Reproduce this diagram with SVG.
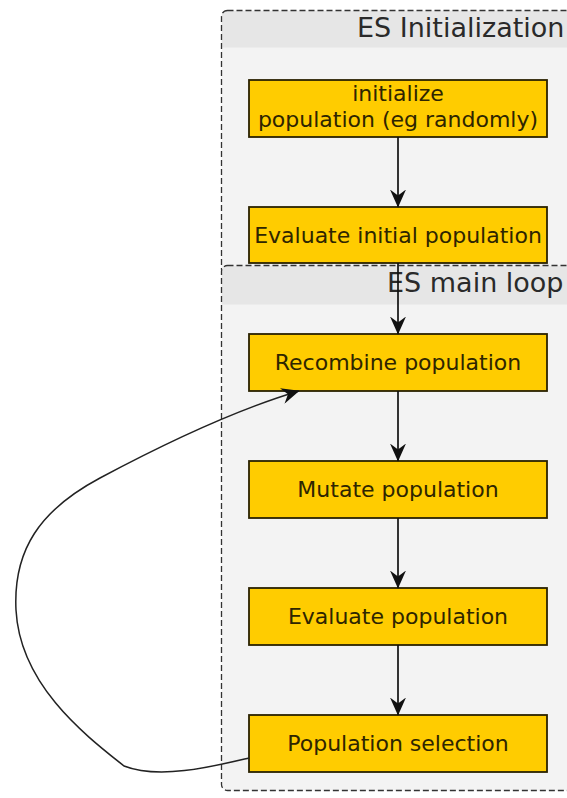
<svg xmlns="http://www.w3.org/2000/svg" width="567" height="798" viewBox="0 0 567 798">
  <style>
    .cont { fill: #f3f3f3; }
    .band { fill: #e6e6e6; }
    .border { fill: none; stroke: #333; stroke-width: 1.3; stroke-dasharray: 6 3; }
    .title { font-family: "DejaVu Sans", sans-serif; font-size: 27px; fill: #2a2a2a; }
    .box { fill: #ffcc00; stroke: #2a2200; stroke-width: 1.8; }
    .lbl { font-family: "DejaVu Sans", sans-serif; font-size: 22px; fill: #2e2500; text-anchor: middle; }
    .edge { fill: none; stroke: #111; stroke-width: 1.7; }
    .curve { fill: none; stroke: #222; stroke-width: 1.5; }
  </style>
  <defs>
    <marker id="arr" viewBox="0 0 18 16" refX="17.5" refY="8" markerWidth="18" markerHeight="16" markerUnits="userSpaceOnUse" orient="auto">
      <path d="M0,0 L18,8 L0,16 L6,8 Z" fill="#111"/>
    </marker>
    <clipPath id="clipInit"><rect x="221.5" y="10.5" width="360" height="265" rx="6"/></clipPath>
    <clipPath id="clipMain"><rect x="221.5" y="265.5" width="360" height="525" rx="6"/></clipPath>
  </defs>
  <rect width="567" height="798" fill="#ffffff"/>

  <g id="init-container">
    <rect class="cont" x="221.5" y="10.5" width="360" height="265" rx="6"/>
    <rect class="band" x="221.5" y="10.5" width="360" height="37" clip-path="url(#clipInit)"/>
    <rect class="border" x="221.5" y="10.5" width="360" height="265" rx="6"/>
    <text class="title" x="357" y="37">ES Initialization</text>
  </g>

  <g id="node-init">
    <rect class="box" x="249" y="80" width="298" height="57"/>
    <text class="lbl" x="398" y="101">initialize</text>
    <text class="lbl" x="398" y="127">population (eg randomly)</text>
  </g>
  <g id="node-eval-init">
    <rect class="box" x="249" y="207" width="298" height="56"/>
    <text class="lbl" x="398" y="243">Evaluate initial population</text>
  </g>

  <g id="main-container">
    <rect class="cont" x="221.5" y="265.5" width="360" height="525" rx="6"/>
    <rect class="band" x="221.5" y="265.5" width="360" height="39" clip-path="url(#clipMain)"/>
    <rect class="border" x="221.5" y="265.5" width="360" height="525" rx="6"/>
    <text class="title" x="387" y="292">ES main loop</text>
  </g>

  <g id="node-recombine">
    <rect class="box" x="249" y="334" width="298" height="57"/>
    <text class="lbl" x="398" y="370">Recombine population</text>
  </g>
  <g id="node-mutate">
    <rect class="box" x="249" y="461" width="298" height="57"/>
    <text class="lbl" x="398" y="497">Mutate population</text>
  </g>
  <g id="node-evaluate">
    <rect class="box" x="249" y="588" width="298" height="57"/>
    <text class="lbl" x="398" y="624">Evaluate population</text>
  </g>
  <g id="node-selection">
    <rect class="box" x="249" y="715" width="298" height="57"/>
    <text class="lbl" x="398" y="751">Population selection</text>
  </g>

  <g id="connectors">
    <line class="edge" x1="398" y1="137" x2="398" y2="207" marker-end="url(#arr)"/>
    <line class="edge" x1="398" y1="263" x2="398" y2="334" marker-end="url(#arr)"/>
    <line class="edge" x1="398" y1="391" x2="398" y2="461" marker-end="url(#arr)"/>
    <line class="edge" x1="398" y1="518" x2="398" y2="588" marker-end="url(#arr)"/>
    <line class="edge" x1="398" y1="645" x2="398" y2="715" marker-end="url(#arr)"/>
    <path class="curve" d="M249,758 C215,766 160,780 124,766 C85,735 20,685 16,610 C13,550 40,510 100,478 C160,446 235,410 299,391" marker-end="url(#arr)"/>
  </g>
</svg>
